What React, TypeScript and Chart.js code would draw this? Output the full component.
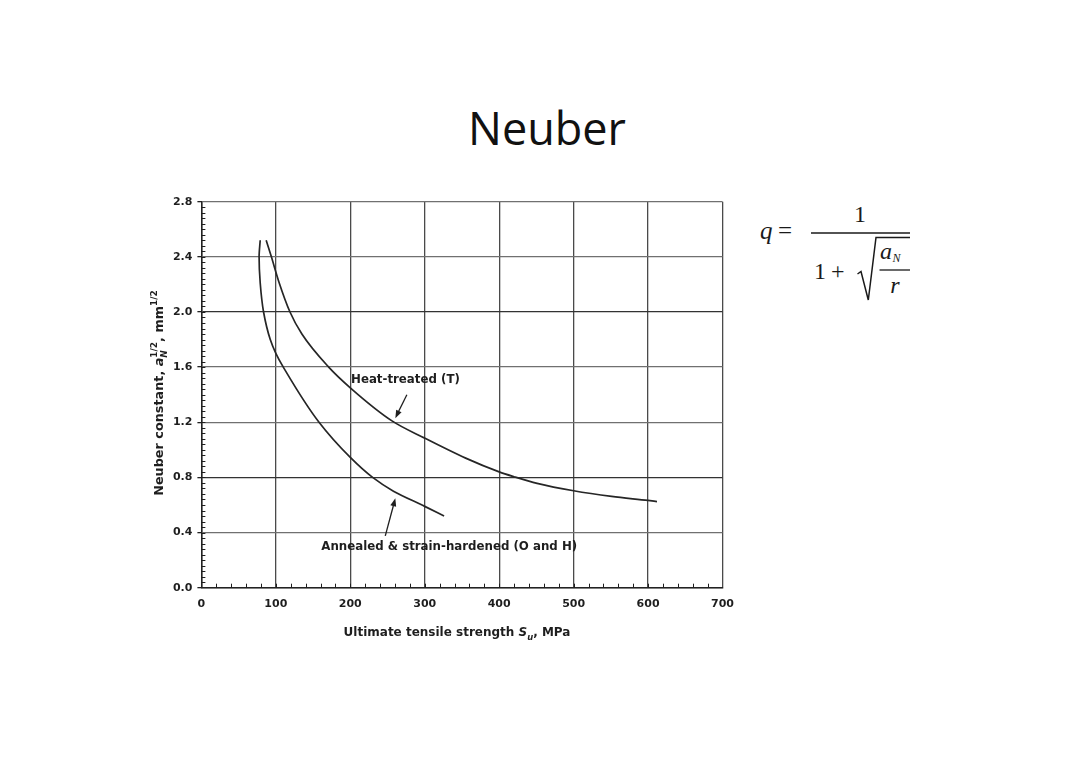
import React, { useEffect, useRef } from "react";
import { Chart, registerables, Plugin } from "chart.js";

Chart.register(...registerables);

// curves (MPa, mm^1/2)
const heatX = [87, 94, 104, 119, 135, 171, 200, 256, 300, 355, 400, 420, 451, 500, 551, 600, 612];
const heatY = [2.52, 2.4, 2.22, 2.0, 1.84, 1.6, 1.45, 1.21, 1.085, 0.94, 0.84, 0.805, 0.757, 0.703, 0.662, 0.633, 0.625];

const annealX = [79, 77.5, 79, 83.5, 92.5, 100, 110, 158, 200, 230, 258, 300, 326];
const annealY = [2.52, 2.4, 2.21, 2.0, 1.8, 1.7, 1.6, 1.2, 0.945, 0.8, 0.7, 0.59, 0.52];

const xMin = 0;
const xMax = 700;
const xStep = 100;
const xMinorStep = 20;
const yMin = 0;
const yMax = 2.8;
const yStep = 0.4;
const yMinorStep = 0.04;

// label anchors in data units
const heatLabel = { text: "Heat-treated (T)", x: 201, y: 1.51 };
const heatArrow = { from: [276, 1.4], to: [260.5, 1.23] };
const annealLabel = { text: "Annealed & strain-hardened (O and H)", x: 161, y: 0.296 };
const annealArrow = { from: [247, 0.376], to: [260.5, 0.648] };

const FONT = "'DejaVu Sans', 'Liberation Sans', sans-serif";
const INK = "#1e1e1e";

type Seg = { t: string; it?: boolean; sub?: boolean; sup?: boolean; stack?: boolean };

const yTitle: Seg[] = [
  { t: "Neuber constant, " },
  { t: "a", it: true },
  { t: "N", it: true, sub: true },
  { t: "1/2", sup: true, stack: true },
  { t: ", mm" },
  { t: "1/2", sup: true },
];

const xTitle: Seg[] = [
  { t: "Ultimate tensile strength " },
  { t: "S", it: true },
  { t: "u", it: true, sub: true },
  { t: ", MPa" },
];

// lays out (and optionally draws) a run of mixed text, returns its width
function richText(ctx: CanvasRenderingContext2D, segs: Seg[], x0: number, base: number, size: number, draw: boolean) {
  let x = 0;
  let lastStart = 0;
  let lastEnd = 0;
  for (const s of segs) {
    const fs = s.sub || s.sup ? size * 0.7 : size;
    ctx.font = `${s.it ? "italic " : ""}bold ${fs}px ${FONT}`;
    const w = ctx.measureText(s.t).width;
    const start = s.stack ? lastStart : x;
    const dy = s.sub ? size * 0.3 : s.sup ? -size * 0.45 : 0;
    if (draw) ctx.fillText(s.t, x0 + start, base + dy);
    const end = start + w;
    x = s.stack ? Math.max(lastEnd, end) : end;
    lastStart = start;
    lastEnd = x;
  }
  return x;
}

function arrow(ctx: CanvasRenderingContext2D, x1: number, y1: number, x2: number, y2: number) {
  const ang = Math.atan2(y2 - y1, x2 - x1);
  const len = 8;
  const half = 3;
  ctx.beginPath();
  ctx.moveTo(x1, y1);
  ctx.lineTo(x2 - Math.cos(ang) * len * 0.6, y2 - Math.sin(ang) * len * 0.6);
  ctx.stroke();
  ctx.beginPath();
  ctx.moveTo(x2, y2);
  ctx.lineTo(x2 - Math.cos(ang) * len - Math.sin(ang) * half, y2 - Math.sin(ang) * len + Math.cos(ang) * half);
  ctx.lineTo(x2 - Math.cos(ang) * len + Math.sin(ang) * half, y2 - Math.sin(ang) * len - Math.cos(ang) * half);
  ctx.closePath();
  ctx.fill();
}

const decorations: Plugin<"line"> = {
  id: "decorations",
  afterDraw(chart) {
    const { ctx, chartArea: a, scales } = chart;
    const xs = scales.x;
    const ys = scales.y;
    ctx.save();
    ctx.strokeStyle = INK;
    ctx.fillStyle = INK;
    ctx.lineWidth = 1;

    // minor ticks, pointing into the plot
    ctx.beginPath();
    for (let v = yMin + yMinorStep; v < yMax - 1e-6; v += yMinorStep) {
      const py = Math.round(ys.getPixelForValue(v)) + 0.5;
      ctx.moveTo(a.left, py);
      ctx.lineTo(a.left + 4, py);
    }
    for (let v = xMin + xMinorStep; v < xMax; v += xMinorStep) {
      const px = Math.round(xs.getPixelForValue(v)) + 0.5;
      ctx.moveTo(px, a.bottom);
      ctx.lineTo(px, a.bottom - 4);
    }
    ctx.stroke();

    // axis titles
    ctx.textBaseline = "alphabetic";
    ctx.textAlign = "left";
    const xw = richText(ctx, xTitle, 0, 0, 12, false);
    richText(ctx, xTitle, 327 - xw / 2, 446, 12, true);

    ctx.save();
    ctx.translate(33, 203);
    ctx.rotate(-Math.PI / 2);
    const yw = richText(ctx, yTitle, 0, 0, 12.8, false);
    richText(ctx, yTitle, -yw / 2, 0, 12.8, true);
    ctx.restore();

    // curve labels and arrows
    ctx.font = `bold 11.8px ${FONT}`;
    ctx.textBaseline = "middle";
    ctx.fillText(heatLabel.text, xs.getPixelForValue(heatLabel.x), ys.getPixelForValue(heatLabel.y));
    ctx.fillText(annealLabel.text, xs.getPixelForValue(annealLabel.x), ys.getPixelForValue(annealLabel.y));
    ctx.lineWidth = 1.3;
    for (const ar of [heatArrow, annealArrow]) {
      arrow(
        ctx,
        xs.getPixelForValue(ar.from[0]),
        ys.getPixelForValue(ar.from[1]),
        xs.getPixelForValue(ar.to[0]),
        ys.getPixelForValue(ar.to[1])
      );
    }
    ctx.restore();
  },
};

const NeuberChart: React.FC = () => {
  const canvasRef = useRef<HTMLCanvasElement | null>(null);

  useEffect(() => {
    if (!canvasRef.current) return;
    const toPoints = (xs: number[], ys: number[]) => xs.map((x, i) => ({ x, y: ys[i] }));
    const gridY = (c: any) => {
      const v = c.tick?.value;
      return Math.abs(v - 2.0) < 1e-6 || Math.abs(v - 0.8) < 1e-6 ? "#333" : "#707070";
    };

    const chart = new Chart(canvasRef.current, {
      type: "line",
      data: {
        datasets: [
          {
            label: "Heat-treated (T)",
            data: toPoints(heatX, heatY),
            borderColor: "#262626",
            borderWidth: 1.7,
            pointRadius: 0,
            cubicInterpolationMode: "monotone",
            fill: false,
          },
          {
            // this curve bends back near the top, so it is interpolated along y
            label: "Annealed & strain-hardened (O and H)",
            data: toPoints(annealX, annealY),
            indexAxis: "y",
            borderColor: "#262626",
            borderWidth: 1.7,
            pointRadius: 0,
            cubicInterpolationMode: "monotone",
            fill: false,
          } as any,
        ],
      },
      options: {
        animation: false,
        responsive: true,
        maintainAspectRatio: false,
        layout: { padding: { left: 0, right: 27.5, top: 11.7, bottom: 0 } },
        plugins: {
          legend: { display: false },
          tooltip: { enabled: false },
        },
        scales: {
          x: {
            type: "linear",
            min: xMin,
            max: xMax,
            afterFit: (s: any) => {
              s.height = 72.3;
            },
            ticks: {
              stepSize: xStep,
              padding: 10,
              color: INK,
              font: { family: FONT, size: 11, weight: "bold" },
              callback: (v: any) => String(v),
            },
            grid: { color: "#4a4a4a", lineWidth: 1.3, drawTicks: false },
            border: { display: true, color: "#222", width: 1.5 },
          },
          y: {
            type: "linear",
            min: yMin,
            max: yMax,
            afterFit: (s: any) => {
              s.width = 71.4;
            },
            ticks: {
              stepSize: yStep,
              padding: 5,
              color: INK,
              font: { family: FONT, size: 11, weight: "bold" },
              callback: (v: any) => Number(v).toFixed(1),
            },
            grid: { color: gridY, lineWidth: 1.3, drawTicks: true, tickLength: 4, tickColor: "#222" },
            border: { display: true, color: "#222", width: 1.5 },
          },
        },
      },
      plugins: [decorations],
    });

    return () => {
      chart.destroy();
    };
  }, []);

  return (
    <div style={{ position: "absolute", left: 130, top: 190, width: 620, height: 470 }}>
      <canvas ref={canvasRef}></canvas>
    </div>
  );
};

const Formula: React.FC = () => (
  <svg
    width={1080}
    height={764}
    style={{ position: "absolute", left: 0, top: 0 }}
    fontFamily="'Liberation Serif', 'DejaVu Serif', serif"
    fill="#1a1a1a"
  >
    <text x={547} y={145} textAnchor="middle" fontFamily="'Open Sans', Lato, sans-serif" fontSize={45} fill="#111">
      Neuber
    </text>
    <text x={760} y={239} fontSize={25} fontStyle="italic">q</text>
    <text x={778} y={239} fontSize={25}>=</text>
    <line x1={811} y1={233} x2={910} y2={233} stroke="#1a1a1a" strokeWidth={1.5} />
    <text x={860} y={222} fontSize={24} textAnchor="middle">1</text>
    <text x={814} y={278.5} fontSize={24}>1</text>
    <text x={831} y={278.5} fontSize={24}>+</text>
    <path d="M 857.5 274 L 861 271.5 L 868.3 300 L 876 237.5 H 910" stroke="#1a1a1a" strokeWidth={1.5} fill="none" />
    <text x={880} y={258.5} fontSize={24} fontStyle="italic">a</text>
    <text x={892.5} y={261.5} fontSize={12} fontStyle="italic">N</text>
    <line x1={879.5} y1={270} x2={910} y2={270} stroke="#1a1a1a" strokeWidth={1.3} />
    <text x={895} y={293} fontSize={24} fontStyle="italic" textAnchor="middle">r</text>
  </svg>
);

export default function App() {
  return (
    <div style={{ position: "absolute", left: 0, top: 0, width: 1080, height: 764, background: "#fff" }}>
      <Formula />
      <NeuberChart />
    </div>
  );
}
